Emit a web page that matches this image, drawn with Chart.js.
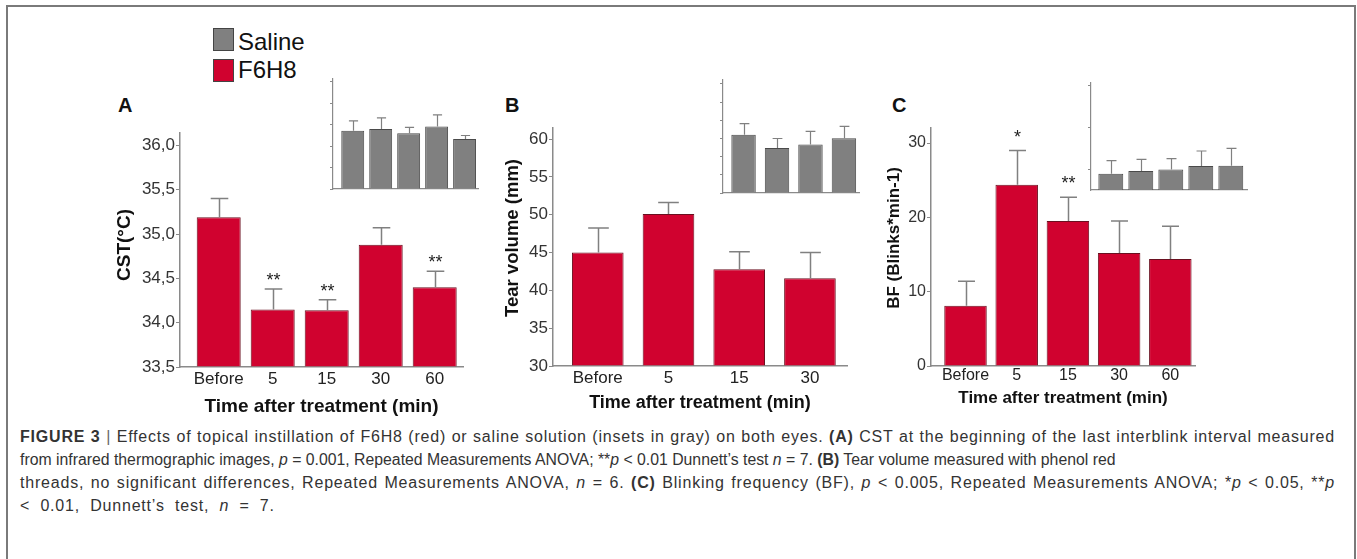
<!DOCTYPE html>
<html><head><meta charset="utf-8">
<script src="https://cdn.jsdelivr.net/npm/chart.js@4.4.1/dist/chart.umd.min.js"></script>
<style>
html,body{margin:0;padding:0;background:#fff;}
body{width:1357px;height:559px;position:relative;overflow:hidden;font-family:"Liberation Sans",Arial,sans-serif;}
.frame{position:absolute;left:6px;top:5px;width:1350px;height:600px;border:2px solid #7a7a7a;border-bottom:none;box-sizing:border-box;}
canvas{position:absolute;}
.letter{position:absolute;font-weight:bold;font-size:20px;line-height:20px;color:#111;}
.lg-box{position:absolute;width:21px;height:23px;border:1.5px solid #444;box-sizing:border-box;}
.lg-txt{position:absolute;font-size:24px;line-height:24px;color:#111;}
.cap{position:absolute;left:20px;font-size:16px;line-height:23px;color:#333;white-space:nowrap;}
.cap.j{text-align:justify;text-align-last:justify;white-space:normal;letter-spacing:0.8px;}
.cap .sep{color:#666;font-weight:normal;}
</style></head>
<body>
<div class="frame"></div>
<div class="lg-box" style="left:213px;top:28px;background:#808080;"></div>
<div class="lg-txt" style="left:238px;top:30px;">Saline</div>
<div class="lg-box" style="left:213px;top:59px;background:#d0022f;"></div>
<div class="lg-txt" style="left:238px;top:58px;">F6H8</div>
<div class="letter" style="left:118px;top:95px;">A</div>
<div class="letter" style="left:505px;top:95px;">B</div>
<div class="letter" style="left:892px;top:95px;">C</div>

<canvas id="cA"></canvas>
<canvas id="cB"></canvas>
<canvas id="cC"></canvas>
<canvas id="iA"></canvas>
<canvas id="iB"></canvas>
<canvas id="iC"></canvas>

<div class="cap j" style="top:425px;width:1315px;"><b>FIGURE 3</b> <span class="sep">|</span> Effects of topical instillation of F6H8 (red) or saline solution (insets in gray) on both eyes. <b>(A)</b> CST at the beginning of the last interblink interval measured</div>
<div class="cap" style="top:448px;font-size:15.8px;">from infrared thermographic images, <i>p</i> = 0.001, Repeated Measurements ANOVA; **<i>p</i> &lt; 0.01 Dunnett’s test <i>n</i> = 7. <b>(B)</b> Tear volume measured with phenol red</div>
<div class="cap j" style="top:471px;width:1315px;">threads, no significant differences, Repeated Measurements ANOVA, <i>n</i> = 6. <b>(C)</b> Blinking frequency (BF), <i>p</i> &lt; 0.005, Repeated Measurements ANOVA; *<i>p</i> &lt; 0.05, **<i>p</i></div>
<div class="cap" style="top:494px;letter-spacing:0.8px;word-spacing:5px;">&lt; 0.01, Dunnett’s test, <i>n</i> = 7.</div>

<script>
// ---------- DATA ----------
// Panel A: corneal surface temperature (CST, °C)
const catsA = ['Before', '5', '15', '30', '60'];
const cstF6H8 = [35.19, 34.15, 34.14, 34.88, 34.40];
const cstF6H8Sem = [0.21, 0.23, 0.12, 0.19, 0.18];
const cstStars = ['', '**', '**', '', '**'];
const cstSaline = [34.86, 34.90, 34.80, 34.96, 34.67];
const cstSalineSem = [0.23, 0.26, 0.14, 0.27, 0.08];
const cstTicks = [33.5, 34.0, 34.5, 35.0, 35.5, 36.0];
const cstTickLabels = ['33,5', '34,0', '34,5', '35,0', '35,5', '36,0'];

// Panel B: tear volume (mm)
const catsB = ['Before', '5', '15', '30'];
const tearF6H8 = [45.0, 50.1, 42.8, 41.6];
const tearF6H8Sem = [3.25, 1.5, 2.3, 3.4];
const tearSaline = [46.0, 42.4, 43.35, 45.1];
const tearSalineSem = [3.1, 2.6, 3.6, 3.25];
const tearTicks = [30, 35, 40, 45, 50, 55, 60];
const tearTickLabels = ['30', '35', '40', '45', '50', '55', '60'];

// Panel C: blinking frequency (blinks/min)
const catsC = ['Before', '5', '15', '30', '60'];
const bfF6H8 = [8.1, 24.4, 19.5, 15.2, 14.4];
const bfF6H8Sem = [3.3, 4.6, 3.2, 4.3, 4.4];
const bfStars = ['', '*', '**', '', ''];
const bfSaline = [8.9, 9.5, 9.9, 10.7, 10.8];
const bfSalineSem = [3.1, 2.8, 2.6, 3.6, 4.1];
const bfTicks = [0, 10, 20, 30];
const bfTickLabels = ['0', '10', '20', '30'];
const bfInsetTicks = [10, 20, 30];

const xTitle = 'Time after treatment (min)';
const RED = '#d0022f', RED_EDGE = '#6a1020';
const GRAY = '#808080', GRAY_EDGE = '#4a4a4a';

Chart.defaults.font.family = '"Liberation Sans", Arial, sans-serif';
Chart.defaults.animation = false;

const errPlugin = {
  id: 'errbars',
  afterDatasetsDraw(chart, args, o) {
    const meta = chart.getDatasetMeta(0);
    const ys = chart.scales.y;
    const ctx = chart.ctx;
    ctx.save();
    ctx.strokeStyle = o.color; ctx.lineWidth = o.lineWidth;
    meta.data.forEach((bar, i) => {
      const v = chart.data.datasets[0].data[i].y;
      const top = ys.getPixelForValue(v + o.sem[i]);
      const x = Math.round(bar.x) + 0.5;
      const half = bar.width * o.capRatio / 2;
      ctx.beginPath();
      ctx.moveTo(x, bar.y); ctx.lineTo(x, top);
      ctx.moveTo(x - half, top); ctx.lineTo(x + half, top);
      ctx.stroke();
      if (o.stars && o.stars[i]) {
        ctx.fillStyle = '#222'; ctx.font = o.starFont;
        ctx.textAlign = 'center'; ctx.textBaseline = 'alphabetic';
        ctx.fillText(o.stars[i], x, top - o.starGap);
      }
    });
    ctx.restore();
  }
};
const yTitlePlugin = {
  id: 'ytitle',
  afterDraw(chart, args, o) {
    if (!o.text) return;
    const ctx = chart.ctx;
    ctx.save();
    ctx.translate(o.x, o.y); ctx.rotate(-Math.PI / 2);
    ctx.font = 'bold ' + o.size + 'px "Liberation Sans", Arial, sans-serif';
    ctx.fillStyle = '#111'; ctx.textAlign = 'center'; ctx.textBaseline = 'middle';
    ctx.fillText(o.text, 0, 0);
    ctx.restore();
  }
};

function build(id, s) {
  const cv = document.getElementById(id);
  const left = s.area.l - s.yW, top = s.area.t - s.padTop;
  cv.width = s.area.r + s.padRight - left;
  cv.height = s.padTop + (s.area.b - s.area.t) + s.xH;
  cv.style.left = left + 'px'; cv.style.top = top + 'px';
  const data = s.vals.map((v, i) => ({x: i, y: v}));
  return new Chart(cv, {
    type: 'bar',
    data: { datasets: [{ data, backgroundColor: s.color, borderColor: s.edge, borderWidth: 1,
      categoryPercentage: 1, barPercentage: s.barPct, base: s.yMin }] },
    plugins: [errPlugin, yTitlePlugin],
    options: {
      responsive: false, maintainAspectRatio: false,
      layout: { padding: { top: s.padTop, right: s.padRight, left: 0, bottom: 0 } },
      plugins: {
        legend: { display: false }, tooltip: { enabled: false },
        errbars: { sem: s.sem, stars: s.stars, color: '#808080', lineWidth: s.errW, capRatio: 0.4,
          starFont: '18px "Liberation Sans", Arial, sans-serif', starGap: s.starGap || 0 },
        ytitle: s.yTitle ? { text: s.yTitle.text, size: s.yTitle.size, x: s.yTitle.x - left, y: s.yTitle.y - top } : {}
      },
      scales: {
        x: {
          type: 'linear', offset: false, min: s.xMin, max: s.xMax,
          afterBuildTicks: sc => { sc.ticks = s.cats.map((c, i) => ({ value: i })); },
          afterFit: sc => { sc.height = s.xH; },
          grid: { display: false, drawTicks: false, offset: false },
          border: { display: true, color: '#8a8a8a', width: s.axisW },
          ticks: s.inset ? { display: false } : {
            display: true, padding: s.xTickPad, color: '#222', maxRotation: 0, autoSkip: false,
            font: { size: s.tickFont }, callback: v => s.cats[Math.round(v)]
          },
          title: s.inset ? { display: false } : {
            display: true, text: xTitle, color: '#111', padding: { top: 0, bottom: s.xTitlePadB },
            font: { size: s.titleFont, weight: 'bold' }
          }
        },
        y: {
          type: 'linear', min: s.yMin, max: s.yMax,
          afterBuildTicks: sc => { sc.ticks = s.yTicks.map(v => ({ value: v })); },
          afterFit: sc => { sc.width = s.yW; },
          grid: { drawOnChartArea: false, drawTicks: true, tickLength: s.inset ? 3 : 4, color: '#8a8a8a', lineWidth: 1 },
          border: { display: true, color: '#8a8a8a', width: s.axisW },
          ticks: s.inset ? { display: false } : {
            display: true, padding: 1, color: '#333', font: { size: s.tickFont },
            callback: (v) => s.yLabels[s.yTicks.indexOf(v)]
          }
        }
      }
    }
  });
}

// main panels
build('cA', { area: {l:180, t:133, r:463, b:367}, yW: 75, padTop: 14, padRight: 6, xH: 52,
  cats: catsA, vals: cstF6H8, sem: cstF6H8Sem, stars: cstStars, starGap: 3,
  color: RED, edge: RED_EDGE, barPct: 0.815, errW: 1.5, axisW: 1.5,
  yMin: 33.5, yMax: 36.14, yTicks: cstTicks, yLabels: cstTickLabels,
  xMin: -0.717, xMax: 4.524, tickFont: 17, xTickPad: 2.5, titleFont: 19, xTitlePadB: 0.6,
  yTitle: { text: 'CST(°C)', x: 125, y: 245, size: 19 } });
build('cB', { area: {l:553, t:128, r:847, b:366}, yW: 75, padTop: 14, padRight: 6, xH: 48,
  cats: catsB, vals: tearF6H8, sem: tearF6H8Sem, stars: null,
  color: RED, edge: RED_EDGE, barPct: 0.73, errW: 1.5, axisW: 1.5,
  yMin: 30, yMax: 61.46, yTicks: tearTicks, yLabels: tearTickLabels,
  xMin: -0.633, xMax: 3.524, tickFont: 17, xTickPad: 1.8, titleFont: 18, xTitlePadB: 0.2,
  yTitle: { text: 'Tear volume (mm)', x: 513, y: 238, size: 18.5 } });
build('cC', { area: {l:931, t:128, r:1195, b:366}, yW: 75, padTop: 14, padRight: 6, xH: 43,
  cats: catsC, vals: bfF6H8, sem: bfF6H8Sem, stars: bfStars, starGap: 8,
  color: RED, edge: RED_EDGE, barPct: 0.83, errW: 1.5, axisW: 1.5,
  yMin: 0, yMax: 32.03, yTicks: bfTicks, yLabels: bfTickLabels,
  xMin: -0.674, xMax: 4.482, tickFont: 16, xTickPad: 0, titleFont: 17, xTitlePadB: 0.5,
  yTitle: { text: 'BF (Blinks*min-1)', x: 894, y: 238, size: 17 } });

// insets (saline)
build('iA', { inset: true, area: {l:333, t:79, r:478, b:189}, yW: 10, padTop: 4, padRight: 2, xH: 2,
  cats: catsA, vals: cstSaline, sem: cstSalineSem, stars: null,
  color: GRAY, edge: GRAY_EDGE, barPct: 0.82, errW: 1.2, axisW: 1.2,
  yMin: 33.5, yMax: 36.07, yTicks: cstTicks, xMin: -0.706, xMax: 4.48 });
build('iB', { inset: true, area: {l:723, t:80, r:859, b:193}, yW: 10, padTop: 4, padRight: 2, xH: 2,
  cats: catsB, vals: tearSaline, sem: tearSalineSem, stars: null,
  color: GRAY, edge: GRAY_EDGE, barPct: 0.73, errW: 1.2, axisW: 1.2,
  yMin: 30, yMax: 61.1, yTicks: tearTicks, xMin: -0.614, xMax: 3.45 });
build('iC', { inset: true, area: {l:1091, t:83, r:1247, b:190}, yW: 10, padTop: 4, padRight: 2, xH: 2,
  cats: catsC, vals: bfSaline, sem: bfSalineSem, stars: null,
  color: GRAY, edge: GRAY_EDGE, barPct: 0.83, errW: 1.2, axisW: 1.2,
  yMin: 5, yMax: 30.5, yTicks: bfInsetTicks, xMin: -0.66, xMax: 4.54 });
</script>
</body></html>
